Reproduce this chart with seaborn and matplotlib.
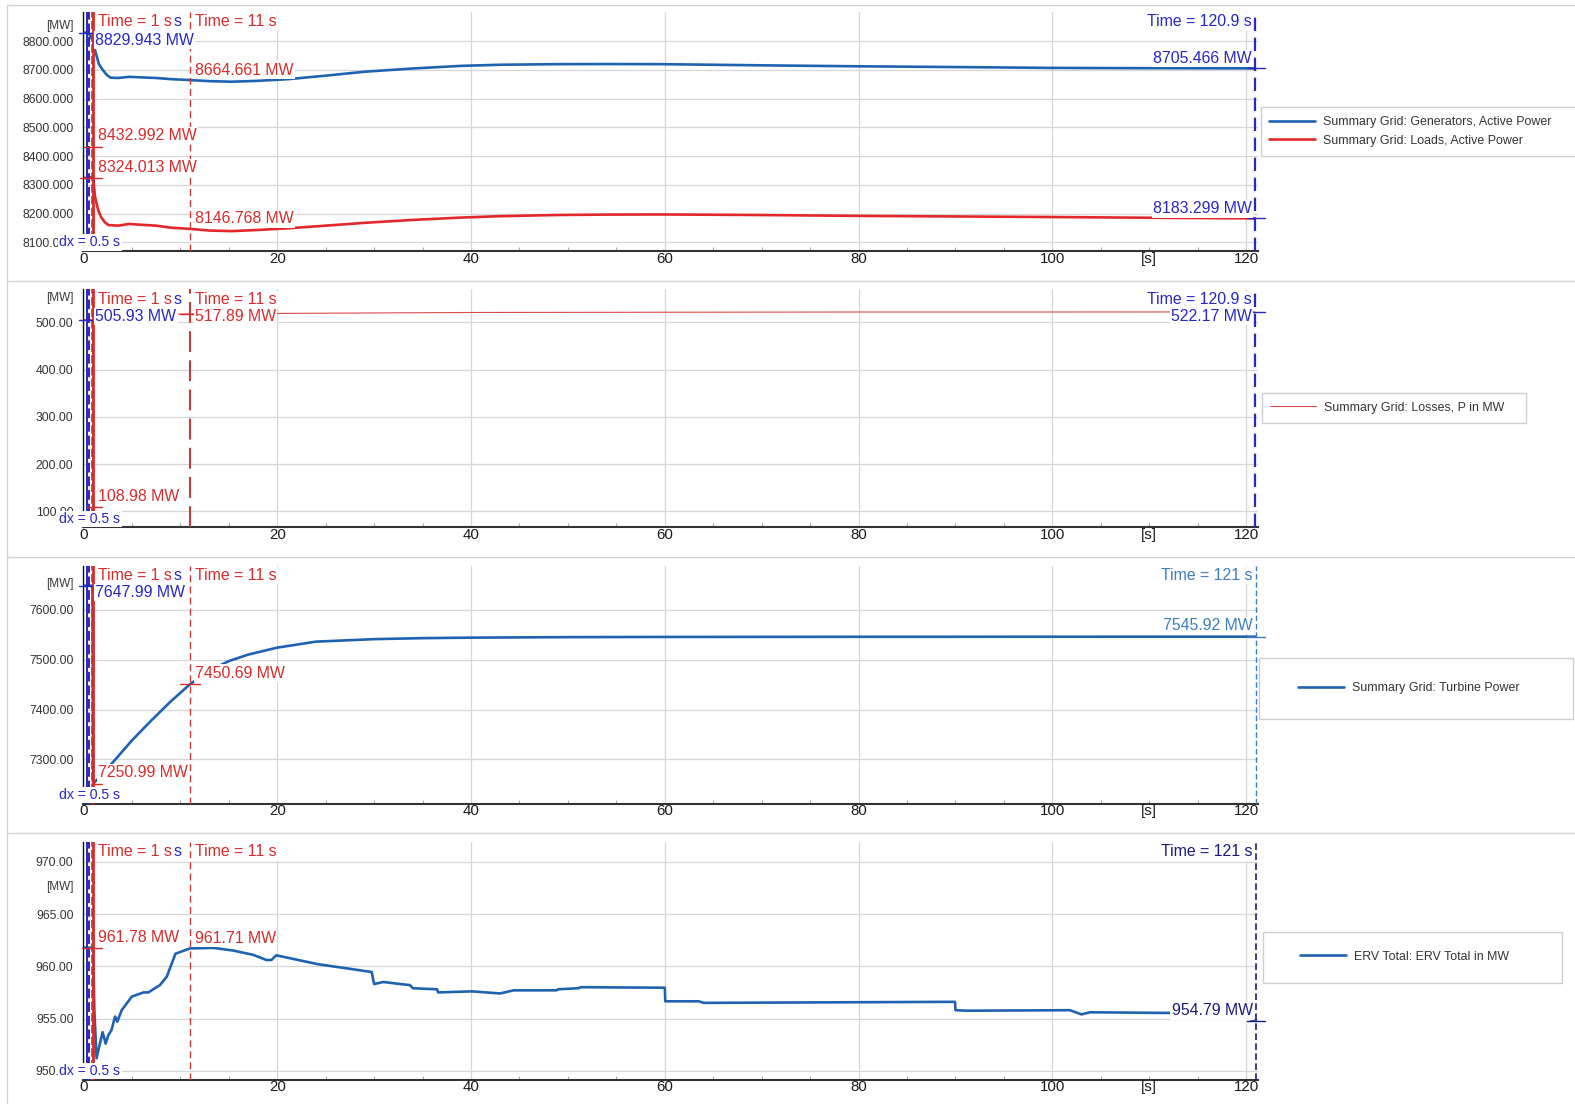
import matplotlib.pyplot as plt
import seaborn as sns
from matplotlib.ticker import FormatStrFormatter, MultipleLocator
from matplotlib.patches import Rectangle
from matplotlib.lines import Line2D

# Estilo
sns.set_theme(style="whitegrid")
plt.rcParams['font.family'] = ['Liberation Sans', 'DejaVu Sans']

# ---------------- dados ----------------
# Painel 1: geração e carga [MW]
t_ger = [0, 0.5, 1.0, 1.2, 1.6, 2.0, 2.4, 2.8, 3.6, 4.7, 6, 7.5, 9, 11, 13, 15.3, 18,
         21.2, 25, 29.1, 34, 38.9, 43, 48.7, 54, 59.7, 70, 80, 90, 100, 110, 120.9]
p_ger = [8829.9, 8829.9, 8800, 8769, 8720, 8700, 8683, 8673, 8672, 8676, 8674, 8672, 8668,
         8664.7, 8661, 8659, 8662, 8668, 8680, 8694, 8705, 8714, 8718, 8720, 8720.5, 8720,
         8716, 8712.6, 8710, 8707, 8706, 8705.5]
t_carga = [0, 0.5, 1.0, 1.2, 1.5, 1.8, 2.2, 2.6, 3.6, 4.7, 6, 7.5, 9, 11, 13, 15.3, 18,
           21.2, 25, 29.1, 34, 38.9, 43, 48.7, 54, 59.7, 70, 80, 90, 100, 110, 120.9]
p_carga = [8324, 8324, 8328, 8259, 8215, 8189, 8170, 8160, 8158, 8164, 8161, 8158, 8151,
           8146.8, 8141, 8139, 8143, 8149, 8158, 8168, 8178, 8186, 8191, 8195, 8196.5,
           8197, 8195, 8192, 8190, 8188, 8185.5, 8183.3]

# Painel 2: perdas [MW]
t_perdas = [0, 0.5, 0.95, 1.0, 1.05, 2, 5, 11, 20, 30, 40, 60, 80, 100, 120.9]
p_perdas = [505.9, 505.93, 505.9, 108.98, 512, 515, 516.5, 517.89, 519, 520, 521, 521.5,
            522, 522, 522.17]

# Painel 3: potência das turbinas [MW]
t_turb = [0, 0.5, 0.95, 1.0, 2, 3.3, 5, 7, 9, 11, 13, 15, 17, 20, 24, 30, 35, 40, 50, 60,
          80, 100, 121]
p_turb = [7648, 7647.99, 7648, 7250.99, 7272, 7300, 7338, 7378, 7416, 7450.69, 7478, 7497,
          7510, 7524, 7536, 7541, 7543, 7544, 7545, 7545.4, 7545.7, 7545.85, 7545.92]

# Painel 4: ERV total [MW]
t_erv = [0, 0.5, 1.0, 1.13, 1.36, 1.7, 1.98, 2.3, 2.57, 2.9, 3.27, 3.5, 3.95, 5.0, 6.2,
         6.7, 7.9, 8.6, 9.5, 11.0, 13.4, 15.5, 17.5, 18.9, 19.4, 19.9, 24.2, 27.2, 29.75,
         30.0, 30.95, 32.7, 33.7, 34.0, 36.5, 36.6, 40.1, 43.0, 44.4, 48.8, 49.0, 51.1,
         51.3, 60.0, 60.05, 63.5, 64.0, 89.95, 90.0, 91.2, 101.8, 103.0, 103.9, 110, 118,
         120.2, 120.6, 121]
p_erv = [961.78, 961.78, 961.78, 955.8, 951.2, 952.6, 953.7, 952.6, 953.4, 953.9, 955.2,
         954.7, 955.8, 957.1, 957.5, 957.5, 958.2, 959.0, 961.2, 961.71, 961.76, 961.5,
         961.1, 960.6, 960.6, 961.05, 960.2, 959.8, 959.45, 958.3, 958.5, 958.3, 958.2,
         957.9, 957.8, 957.5, 957.6, 957.4, 957.7, 957.7, 957.8, 957.9, 958.0, 957.95,
         956.65, 956.65, 956.5, 956.6, 955.8, 955.75, 955.8, 955.4, 955.6, 955.55, 955.5,
         955.4, 954.8, 954.79]

# leituras dos cursores
cur1_t = [0.5, 1, 1, 11, 11, 120.9, 120.9]
cur1_v = [8829.943, 8432.992, 8324.013, 8664.661, 8146.768, 8705.466, 8183.299]
cur2_t = [0.5, 1, 11, 120.9]
cur2_v = [505.93, 108.98, 517.89, 522.17]
cur3_t = [0.5, 1, 11, 121]
cur3_v = [7647.99, 7250.99, 7450.69, 7545.92]
cur4_t = [1, 11, 121]
cur4_v = [961.78, 961.71, 954.79]

# ---------------- cores / geometria ----------------
AZUL_CUR = '#2727c6'
VERM_CUR = '#d62c2c'
VERM_TRACO = '#c23b3b'
AZUL_LINHA = '#1f63b0'
VERM_LINHA = '#e3282b'
AZUL_CLARO = '#3d7dc0'
AZUL_ESC = '#1c1c7e'
FS = 11.4
BOX = dict(boxstyle='square,pad=0.08', fc='white', ec='none')

W, H = 1575, 1104
X0, PXS, XMAX = 83.4, 9.69, 121.2

fig = plt.figure(figsize=(W / 100, H / 100), dpi=100)
fig.patch.set_facecolor('white')


def painel(top, bot):
    ax = fig.add_axes([X0 / W, 1 - bot / H, XMAX * PXS / W, (bot - top) / H])
    ax.set_facecolor('white')
    return ax


def acabamento(ax, yticks, ylim, fmt, y_mw):
    ax.set(xlabel='', ylabel='')
    ax.set_xlim(0, XMAX)
    ax.set_ylim(*ylim)
    ax.set_xticks(range(0, 121, 20))
    ax.set_yticks(yticks)
    ax.yaxis.set_major_formatter(FormatStrFormatter(fmt))
    ax.xaxis.set_minor_locator(MultipleLocator(5))
    ax.grid(True, which='major', color='#d6d6d6', lw=0.9)
    ax.grid(False, which='minor')
    for s in ('top', 'right'):
        ax.spines[s].set_visible(False)
    ax.spines['left'].set_color('#111111')
    ax.spines['left'].set_linewidth(1.0)
    ax.spines['bottom'].set_color('#333333')
    ax.spines['bottom'].set_linewidth(1.5)
    ax.tick_params(axis='y', length=0, pad=7.2, labelsize=8.8, labelcolor='#333333')
    ax.tick_params(axis='x', which='major', length=0, pad=0.5, labelsize=10.8,
                   labelcolor='#1a1a1a')
    ax.tick_params(axis='x', which='minor', bottom=True, direction='in', length=3,
                   width=0.8, color='#a8a8a8')
    ax.annotate('[s]', xy=(110, 0), xycoords=('data', 'axes fraction'), xytext=(0, -0.5),
                textcoords='offset points', ha='center', va='top', fontsize=10.8,
                color='#1a1a1a', annotation_clip=False)
    ax.annotate('[MW]', xy=(0, y_mw), xycoords=('axes fraction', 'data'), xytext=(-10, 0),
                textcoords='offset pixels', ha='right', va='center', fontsize=8.5,
                color='#3a3a3a', annotation_clip=False)
    # rótulo dx: no original ele encobre parte do último rótulo do eixo y
    ax.annotate('dx = 0.5 s', xy=(0, 0), xycoords='axes fraction', xytext=(-24, 8.5),
                textcoords='offset pixels', ha='left', va='center', color=AZUL_CUR,
                fontsize=10.1, zorder=8, bbox=BOX, annotation_clip=False)


def cursores(ax, t_dir, cor_dir, lw_dir, ls_dir, lw11=1.0, ls11=(0, (5, 3))):
    ax.axvline(0.42, color=AZUL_CUR, lw=1.4, zorder=3)
    ax.axvline(0.6, color=AZUL_CUR, lw=1.4, ls=(0, (5, 2)), zorder=3)
    ax.axvline(0.84, color=VERM_CUR, lw=1.2, ls=(0, (5, 2)), zorder=3)
    ax.axvline(1.02, color=VERM_CUR, lw=2.0, zorder=3)
    ax.axvline(11, color=VERM_TRACO, lw=lw11, ls=ls11, zorder=3)
    ax.axvline(t_dir, color=cor_dir, lw=lw_dir, ls=ls_dir, zorder=3)


def tempo(ax, t, txt, cor, ha='left', dx=5, z=6):
    ax.annotate(txt, xy=(t, 1), xycoords=('data', 'axes fraction'), xytext=(dx, -10),
                textcoords='offset pixels', ha=ha, va='center', color=cor, fontsize=FS,
                zorder=z, bbox=BOX, annotation_clip=False)


def tempos(ax, t_dir, txt_dir, cor_dir):
    tempo(ax, 1, 'Time = 1 s', VERM_CUR)
    # resto visível do rótulo azul do cursor de 0.5 s, encoberto pelo vermelho
    tempo(ax, 1, 's', AZUL_CUR, dx=80)
    tempo(ax, 11, 'Time = 11 s', VERM_CUR)
    tempo(ax, t_dir, txt_dir, cor_dir, ha='right', dx=-3)


def leitura(ax, t, v, txt, cor, ha='left', dx=5, dy=10, traco=None):
    if traco is not None:
        ax.plot(traco, [v, v], color=cor, lw=1.0, clip_on=False, zorder=4)
    ax.annotate(txt, xy=(t, v), xytext=(dx, dy), textcoords='offset pixels', ha=ha,
                va='center', color=cor, fontsize=FS, zorder=6, bbox=BOX,
                annotation_clip=False)


def legenda(ax, x, y, box, esp=0.3):
    ax.legend(loc='center left', bbox_to_anchor=(x / W, 1 - y / H),
              bbox_transform=fig.transFigure, frameon=False, fontsize=8.9,
              handlelength=3.7, handletextpad=0.68, borderpad=0, borderaxespad=0,
              labelspacing=esp, labelcolor='#333333')
    x0, y0, x1, y1 = box
    fig.add_artist(Rectangle((x0 / W, 1 - y1 / H), (x1 - x0) / W, (y1 - y0) / H,
                             transform=fig.transFigure, fill=False, ec='#cfcfcf', lw=1.0))


# molduras dos painéis
for ytop in [5, 280.5, 556.5, 832.5]:
    fig.add_artist(Line2D([7 / W, 1], [1 - ytop / H] * 2, transform=fig.transFigure,
                          color='#d4d4d4', lw=1))
fig.add_artist(Line2D([7 / W] * 2, [0, 1 - 5 / H], transform=fig.transFigure,
                      color='#d4d4d4', lw=1))

# ---------------- Painel 1 ----------------
ax1 = painel(12, 251)
sns.lineplot(x=t_ger, y=p_ger, ax=ax1, color=AZUL_LINHA, linewidth=1.9,
             label='Summary Grid: Generators, Active Power')
sns.lineplot(x=t_carga, y=p_carga, ax=ax1, color=VERM_LINHA, linewidth=1.9,
             label='Summary Grid: Loads, Active Power')
cursores(ax1, 120.9, AZUL_CUR, 1.6, (0, (6, 3)))
tempos(ax1, 120.9, 'Time = 120.9 s', AZUL_CUR)
leitura(ax1, cur1_t[0], cur1_v[0], f'{cur1_v[0]:.3f} MW', AZUL_CUR, dx=7, dy=-7.6,
        traco=[-0.45, 0.85])
leitura(ax1, cur1_t[1], cur1_v[1], f'{cur1_v[1]:.3f} MW', VERM_CUR, dy=11,
        traco=[0, 1.9])
leitura(ax1, cur1_t[2], cur1_v[2], f'{cur1_v[2]:.3f} MW', VERM_CUR, dy=10,
        traco=[-0.4, 1.9])
leitura(ax1, cur1_t[3], cur1_v[3], f'{cur1_v[3]:.3f} MW', VERM_CUR, dy=10)
leitura(ax1, cur1_t[4], cur1_v[4], f'{cur1_v[4]:.3f} MW', VERM_CUR, dy=10)
leitura(ax1, cur1_t[5], cur1_v[5], f'{cur1_v[5]:.3f} MW', AZUL_CUR, ha='right', dx=-3,
        dy=10, traco=[120.05, 121.9])
leitura(ax1, cur1_t[6], cur1_v[6], f'{cur1_v[6]:.3f} MW', AZUL_CUR, ha='right', dx=-3,
        dy=9.5, traco=[120.05, 121.9])
acabamento(ax1, range(8100, 8801, 100), (8069.8, 8901.6), '%.3f', 8852.6)
legenda(ax1, 1269.3, 131.5, (1261, 107.5, 1580, 155.7), esp=0.5)

# ---------------- Painel 2 ----------------
ax2 = painel(289.3, 527.4)
sns.lineplot(x=t_perdas, y=p_perdas, ax=ax2, color='#d94a4a', linewidth=0.8,
             label='Summary Grid: Losses, P in MW')
cursores(ax2, 120.9, AZUL_CUR, 1.6, (0, (6, 3)), lw11=1.5, ls11=(0, (10, 4)))
tempos(ax2, 120.9, 'Time = 120.9 s', AZUL_CUR)
leitura(ax2, cur2_t[0], cur2_v[0], f'{cur2_v[0]:.2f} MW', AZUL_CUR, dx=7, dy=3.2,
        traco=[-0.45, 0.85])
leitura(ax2, cur2_t[1], cur2_v[1], f'{cur2_v[1]:.2f} MW', VERM_CUR, dy=10.8,
        traco=[0.4, 1.9])
leitura(ax2, cur2_t[2], cur2_v[2], f'{cur2_v[2]:.2f} MW', VERM_CUR, dy=-2.4,
        traco=[10, 11.6])
leitura(ax2, cur2_t[3], cur2_v[3], f'{cur2_v[3]:.2f} MW', AZUL_CUR, ha='right', dx=-3,
        dy=-4.4, traco=[120.6, 121.9])
acabamento(ax2, range(100, 501, 100), (65.7, 570.1), '%.2f', 551)
legenda(ax2, 1270, 407.7, (1261.7, 392.7, 1526, 423.3))

# ---------------- Painel 3 ----------------
ax3 = painel(565.5, 803.6)
sns.lineplot(x=t_turb, y=p_turb, ax=ax3, color=AZUL_LINHA, linewidth=1.9,
             label='Summary Grid: Turbine Power')
cursores(ax3, 121, AZUL_CLARO, 1.0, (0, (4, 2)))
tempos(ax3, 121, 'Time = 121 s', AZUL_CLARO)
leitura(ax3, cur3_t[0], cur3_v[0], f'{cur3_v[0]:.2f} MW', AZUL_CUR, dx=7, dy=-7,
        traco=[-0.45, 0.85])
leitura(ax3, cur3_t[1], cur3_v[1], f'{cur3_v[1]:.2f} MW', VERM_CUR, dy=11.5,
        traco=[1.0, 1.9])
leitura(ax3, cur3_t[2], cur3_v[2], f'{cur3_v[2]:.2f} MW', VERM_CUR, dy=11,
        traco=[10, 12])
leitura(ax3, cur3_t[3], cur3_v[3], f'{cur3_v[3]:.2f} MW', AZUL_CLARO, ha='right', dx=-3,
        dy=11, traco=[120.1, 121.9])
acabamento(ax3, range(7300, 7601, 100), (7211.6, 7688.5), '%.2f', 7652)
legenda(ax3, 1298.3, 688.3, (1259.3, 657.7, 1572.7, 719.3))

# ---------------- Painel 4 ----------------
ax4 = painel(841.8, 1079.8)
sns.lineplot(x=t_erv, y=p_erv, ax=ax4, color=AZUL_LINHA, linewidth=1.9,
             label='ERV Total: ERV Total in MW')
cursores(ax4, 121, AZUL_ESC, 1.2, (0, (4, 2)))
tempos(ax4, 121, 'Time = 121 s', AZUL_ESC)
leitura(ax4, cur4_t[0], cur4_v[0], f'{cur4_v[0]:.2f} MW', VERM_CUR, dy=10.5,
        traco=[-0.1, 1.9])
leitura(ax4, cur4_t[1], cur4_v[1], f'{cur4_v[1]:.2f} MW', VERM_CUR, dy=10)
leitura(ax4, cur4_t[2], cur4_v[2], f'{cur4_v[2]:.2f} MW', AZUL_ESC, ha='right', dx=-3,
        dy=10, traco=[120.1, 121.9])
acabamento(ax4, range(950, 971, 5), (949.14, 971.91), '%.2f', 967.6)
legenda(ax4, 1300, 956.7, (1262.7, 931.7, 1562.3, 983.3))

fig.savefig('out.png', dpi=100)
